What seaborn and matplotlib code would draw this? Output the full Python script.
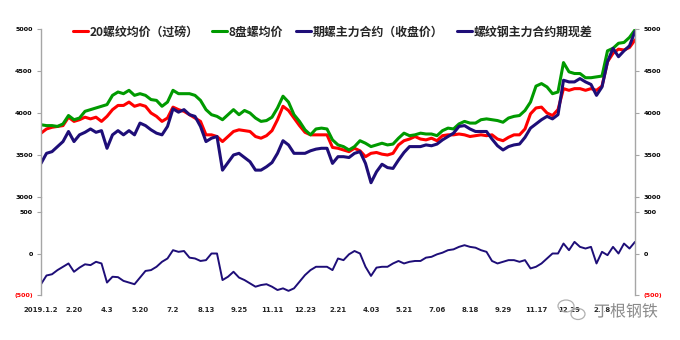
import numpy as np
import pandas as pd
import matplotlib
matplotlib.use("Agg")
import matplotlib.pyplot as plt
import matplotlib.patheffects as pe
from matplotlib.patches import Ellipse
from matplotlib.lines import Line2D
import seaborn as sns

# Weekly samples, 2019-01-02 onwards (yuan/ton)
rebar_20 = [3760, 3810, 3830, 3840, 3850, 3950, 3900, 3920, 3950, 3930, 3950, 3900,
            3960, 4040, 4090, 4090, 4130, 4080, 4100, 4080, 4000, 3960, 3900, 3940,
            4070, 4040, 4020, 3980, 3940, 3900, 3740, 3740, 3720, 3660, 3720, 3780,
            3800, 3790, 3780, 3720, 3700, 3730, 3790, 3920, 4080, 4030, 3940, 3850,
            3770, 3740, 3740, 3740, 3740, 3590, 3580, 3560, 3540, 3580, 3550, 3480,
            3520, 3530, 3510, 3500, 3520, 3620, 3670, 3690, 3720, 3690, 3680, 3700,
            3670, 3730, 3740, 3740, 3750, 3740, 3720, 3730, 3740, 3730, 3740, 3690,
            3670, 3710, 3740, 3740, 3810, 3990, 4060, 4070, 4000, 3970, 4040, 4290,
            4270, 4290, 4290, 4270, 4290, 4270, 4320, 4610, 4710, 4760, 4750, 4780,
            4870]
rebar_8 = [3860, 3850, 3850, 3840, 3870, 3970, 3920, 3940, 4020, 4040, 4060, 4080,
           4100, 4210, 4250, 4230, 4270, 4210, 4230, 4210, 4160, 4150, 4080, 4130,
           4270, 4230, 4230, 4230, 4210, 4150, 4040, 3980, 3960, 3920, 3980, 4040,
           3980, 4030, 4000, 3940, 3900, 3910, 3950, 4060, 4200, 4130, 3980, 3900,
           3800, 3740, 3810, 3820, 3810, 3680, 3620, 3600, 3560, 3600, 3670, 3640,
           3600, 3620, 3640, 3620, 3630, 3700, 3760, 3730, 3740, 3760, 3750, 3750,
           3730, 3790, 3820, 3810, 3870, 3900, 3880, 3880, 3920, 3930, 3920, 3910,
           3890, 3940, 3960, 3970, 4030, 4130, 4320, 4350, 4310, 4230, 4250, 4600,
           4490, 4470, 4470, 4420, 4420, 4430, 4440, 4740, 4770, 4830, 4840, 4900,
           4990]
futures_main = [3400, 3520, 3540, 3600, 3660, 3780, 3660, 3740, 3770, 3810, 3770, 3790,
                3580, 3740, 3790, 3740, 3790, 3740, 3880, 3850, 3800, 3760, 3740, 3840,
                4050, 4010, 4040, 3980, 3960, 3840, 3660, 3700, 3720, 3320, 3410, 3500,
                3520, 3470, 3420, 3320, 3320, 3360, 3410, 3520, 3670, 3620, 3520, 3520,
                3520, 3550, 3570, 3580, 3580, 3400, 3480, 3480, 3470, 3520, 3540, 3400,
                3170, 3300, 3390, 3350, 3340, 3440, 3530, 3600, 3600, 3600, 3620, 3610,
                3630, 3680, 3720, 3760, 3840, 3850, 3810, 3780, 3780, 3780, 3690, 3610,
                3560, 3600, 3620, 3630, 3710, 3820, 3870, 3920, 3960, 3930, 3980, 4390,
                4370, 4370, 4410, 4370, 4340, 4210, 4310, 4610, 4770, 4670, 4740, 4800,
                4970]
basis = [-370, -265, -250, -200, -160, -120, -220, -170, -130, -140, -100, -120,
         -350, -280, -285, -330, -350, -370, -290, -210, -200, -160, -100, -60,
         40, 20, 30, -50, -60, -90, -80, 0, 0, -320, -280, -220,
         -290, -320, -360, -400, -380, -370, -400, -440, -420, -450, -420, -340,
         -260, -200, -160, -160, -160, -200, -60, -80, -10, 30, 0, -160,
         -270, -170, -160, -160, -120, -90, -120, -100, -90, -90, -50, -40,
         -10, 10, 40, 50, 80, 100, 80, 70, 40, 20, -90, -120,
         -100, -80, -80, -100, -80, -180, -160, -120, -60, 0, 0, 120,
         40, 140, 80, 60, 80, -120, 20, -20, 80, 0, 120, 60,
         140]

date_labels = ["2019.1.2", "2.20", "4.3", "5.20", "7.2", "8.13", "9.25", "11.11",
               "12.23", "2.21", "4.03", "5.21", "7.06", "8.18", "9.29", "11.17",
               "12.29", "2.18"]

names = ["20螺纹均价（过磅）", "8盘螺均价", "期螺主力合约（收盘价）", "螺纹钢主力合约期现差"]
colors = ["#FF0000", "#009A00", "#1E0E78", "#1E0E78"]

sns.set_theme(style="white")
plt.rcParams["font.family"] = ["Noto Sans CJK SC", "DejaVu Sans"]
plt.rcParams["axes.unicode_minus"] = False

idx = np.arange(len(rebar_20))
df = pd.DataFrame({"idx": idx, names[0]: rebar_20, names[1]: rebar_8,
                   names[2]: futures_main, names[3]: basis})

W, H = 680, 340
fig = plt.figure(figsize=(W / 100, H / 100), dpi=100)
x0, x1 = 41, 635
ax_top = fig.add_axes([x0 / W, 1 - 197 / H, (x1 - x0) / W, (197 - 29) / H])
ax_bot = fig.add_axes([x0 / W, 1 - 295 / H, (x1 - x0) / W, (295 - 212) / H])

for name, c in zip(names[:3], colors[:3]):
    sns.lineplot(data=df, x="idx", y=name, ax=ax_top, color=c, linewidth=2.2,
                 label=name, legend=False)
sns.lineplot(data=df, x="idx", y=names[3], ax=ax_bot, color=colors[3],
             linewidth=1.4, label=names[3], legend=False)

spine_c = "#A6A6A6"
for ax, lo, hi, step in [(ax_top, 3000, 5000, 500), (ax_bot, -500, 500, 500)]:
    ax.set_xlim(0, len(idx) - 1)
    ax.set_ylim(lo, hi)
    ax.set_xlabel("")
    ax.set_ylabel("")
    for s in ["top", "bottom"]:
        ax.spines[s].set_visible(False)
    for s in ["left", "right"]:
        ax.spines[s].set_color(spine_c)
        ax.spines[s].set_linewidth(1.0)
    ticks = np.arange(lo, hi + 1, step)
    ax.set_yticks(ticks)
    ax.set_yticklabels([f"({abs(t):d})" if t < 0 else f"{t:d}" for t in ticks])
    ax.yaxis.set_ticks_position("both")
    ax.tick_params(axis="y", which="both", left=True, right=True, labelleft=True,
                   labelright=True, length=3, width=0.8, color=spine_c,
                   labelsize=4.6, pad=3, direction="out")
    for t, tk in zip(ticks, ax.yaxis.get_major_ticks()):
        col = "#FF0000" if t < 0 else "black"
        for lab in (tk.label1, tk.label2):
            lab.set_color(col)
            lab.set_fontweight("bold")
            lab.set_fontfamily("DejaVu Sans")
    ax.patch.set_alpha(0)

ax_top.set_xticks([])
ax_bot.set_xticks(np.arange(len(date_labels)) * 6)
ax_bot.set_xticklabels(date_labels, fontsize=5, fontweight="bold",
                       fontfamily="DejaVu Sans")
ax_bot.tick_params(axis="x", length=0, pad=9)

# Join the two panels' vertical axis lines across the gap
for xp in (x0, x1):
    fig.add_artist(Line2D([xp / W, xp / W], [1 - 197 / H, 1 - 212 / H],
                          color=spine_c, lw=1.0, transform=fig.transFigure))

handles = [Line2D([], [], color=c, lw=2.2) for c in colors]
leg = fig.legend(handles, names, loc="center", bbox_to_anchor=(0.489, 1 - 32 / H),
                 ncol=4, frameon=False, handlelength=1.25, handletextpad=0.15,
                 columnspacing=1.1,
                 prop={"family": ["Noto Sans CJK SC", "DejaVu Sans"],
                       "weight": "bold", "size": 8.6})

# WeChat account mark
icon_c = "#B0B0B0"
fig.add_artist(Ellipse((566 / W, 1 - 306 / H), 16 / W, 12 / H, fill=False,
                       ec=icon_c, lw=0.9, transform=fig.transFigure))
fig.add_artist(Ellipse((578 / W, 1 - 314 / H), 14 / W, 11 / H, fill=False,
                       ec=icon_c, lw=0.9, transform=fig.transFigure))
fig.text(626 / W, 1 - 312 / H, "丁根钢铁", ha="center", va="center", fontsize=11.5,
         color="#8A8A8A", family=["Noto Sans CJK SC", "DejaVu Sans"],
         path_effects=[pe.withStroke(linewidth=2, foreground="white")])

fig.savefig("out.png", dpi=100, facecolor="white")
